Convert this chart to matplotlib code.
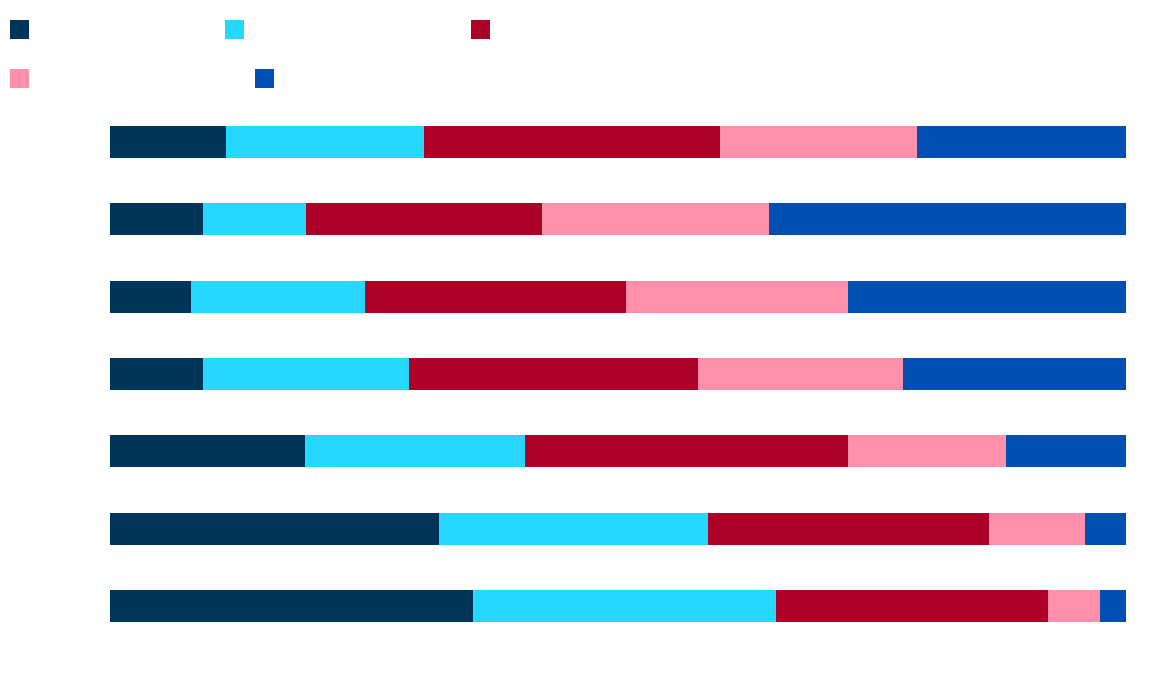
import matplotlib
matplotlib.use("Agg")
import matplotlib.pyplot as plt
from matplotlib.patches import Rectangle
import numpy as np

categories = ["1", "2", "3", "4", "5", "6", "7"]
series_names = ["A", "B", "C", "D", "E"]
s1 = [11.4, 9.2, 8.0, 9.2, 19.2, 32.4, 35.7]
s2 = [19.5, 10.1, 17.1, 20.2, 21.6, 26.5, 29.9]
s3 = [29.1, 23.2, 25.7, 28.5, 31.8, 27.6, 26.7]
s4 = [19.4, 22.4, 21.8, 20.2, 15.6, 9.5, 5.1]
s5 = [20.6, 35.1, 27.4, 22.0, 11.8, 4.0, 2.7]
colors = ["#00355A", "#26D7FF", "#AD0026", "#FF8FAB", "#0050B4"]

series = [s1, s2, s3, s4, s5]

fig = plt.figure(figsize=(11.68, 6.8), dpi=100)
ax = fig.add_axes([110 / 1168, 1 - 650 / 680, (1126 - 110) / 1168, 550 / 680])
y = np.arange(len(categories))
left = np.zeros(len(categories))
for vals, c in zip(series, colors):
    v = np.array(vals)
    ax.barh(y, v, left=left, height=0.415, color=c, linewidth=0)
    left += v
ax.set_xlim(0, 100)
ax.set_ylim(6.569, -0.543)
ax.axis("off")

# legend swatches (no visible labels in the reference)
legend_pos = [(10, 20), (225, 20), (471, 20), (10, 69), (255, 69)]
for (px, py), c, name in zip(legend_pos, colors, series_names):
    fig.add_artist(Rectangle((px / 1168, 1 - (py + 19) / 680), 19 / 1168, 19 / 680,
                             transform=fig.transFigure, color=c, linewidth=0))

fig.savefig("out.png", dpi=100)
